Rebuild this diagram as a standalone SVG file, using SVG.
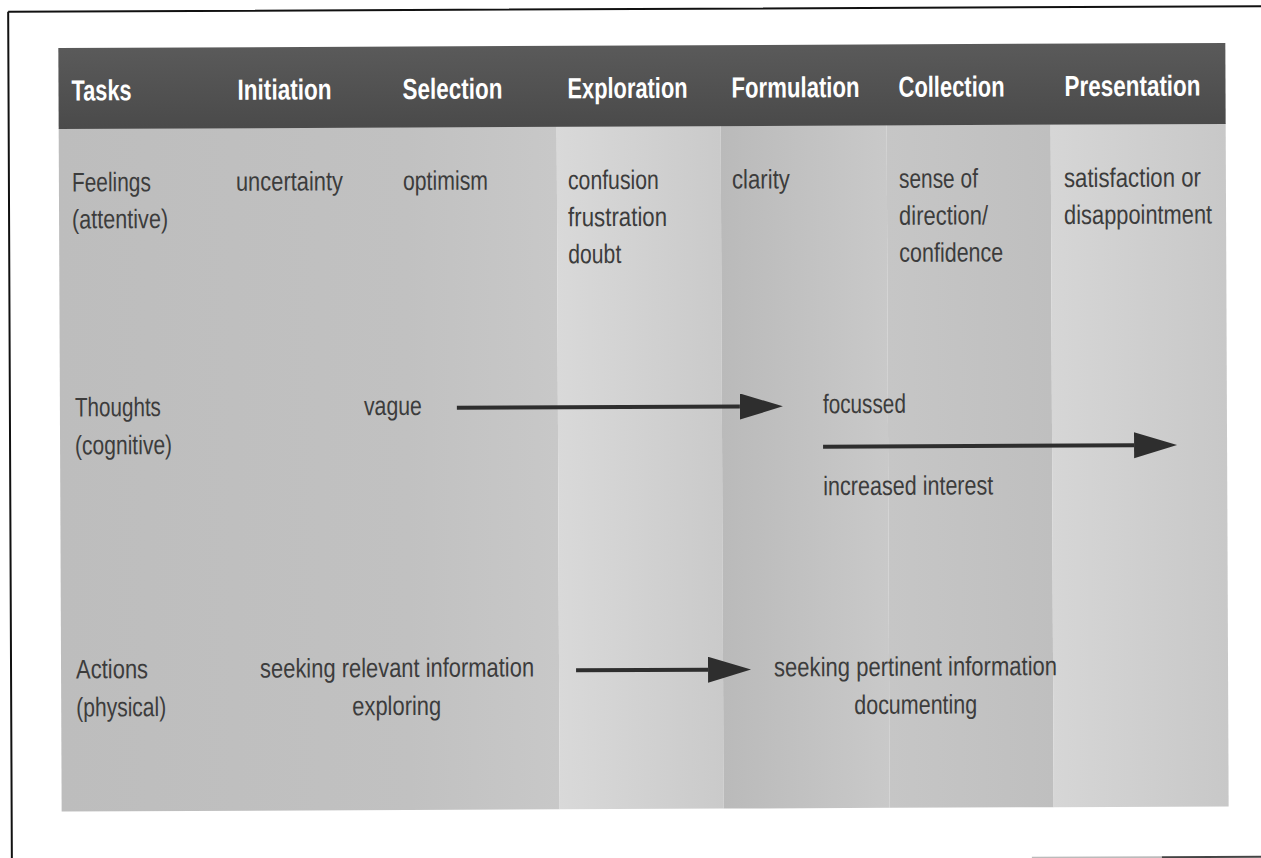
<svg xmlns="http://www.w3.org/2000/svg" width="1261" height="858" viewBox="0 0 1261 858">
  <style>
    .hd { font-family: "Liberation Sans Narrow", "Liberation Sans", Arial, sans-serif; font-weight: bold; font-size: 29px; fill: #ffffff; }
    .tx { font-family: "Liberation Sans Narrow", "Liberation Sans", Arial, sans-serif; font-size: 27px; fill: #3c3c3c; }
    .ar { stroke: #2e2e2e; stroke-width: 4; fill: none; }
    .frame { stroke: #111111; stroke-width: 2; fill: none; }
  </style>
  <defs>
    <marker id="head" markerUnits="userSpaceOnUse" markerWidth="46" markerHeight="28" refX="0" refY="13" orient="auto">
      <path d="M0,0 L43,13 L0,26 Z" fill="#2e2e2e"/>
    </marker>
    <linearGradient id="gLeft" x1="0" y1="0" x2="1" y2="0">
      <stop offset="0" stop-color="#bdbdbd"/>
      <stop offset="0.7" stop-color="#c1c1c1"/>
      <stop offset="1" stop-color="#c8c8c8"/>
    </linearGradient>
    <linearGradient id="gExp" x1="0" y1="0" x2="1" y2="0">
      <stop offset="0" stop-color="#d9d9d9"/>
      <stop offset="1" stop-color="#cacaca"/>
    </linearGradient>
    <linearGradient id="gFor" x1="0" y1="0" x2="1" y2="0">
      <stop offset="0" stop-color="#bababa"/>
      <stop offset="1" stop-color="#c9c9c9"/>
    </linearGradient>
    <linearGradient id="gCol" x1="0" y1="0" x2="1" y2="0">
      <stop offset="0" stop-color="#c6c6c6"/>
      <stop offset="1" stop-color="#bfbfbf"/>
    </linearGradient>
    <linearGradient id="gPre" x1="0" y1="0" x2="1" y2="0">
      <stop offset="0" stop-color="#d6d6d6"/>
      <stop offset="1" stop-color="#c8c8c8"/>
    </linearGradient>
    <linearGradient id="gHead" x1="0" y1="0" x2="0" y2="1">
      <stop offset="0" stop-color="#5a5a5a"/>
      <stop offset="1" stop-color="#4a4a4a"/>
    </linearGradient>
  </defs>

  <rect x="0" y="0" width="1261" height="858" fill="#ffffff"/>

  <g transform="rotate(-0.25 630 430)">
    <g id="frame">
      <path class="frame" d="M10,9 L1300,9 M10,9 L10,900"/>
      <path d="M1030,859.5 L1160,859.5" stroke="#bbbbbb" stroke-width="2"/>
      <path d="M1160,859.5 L1300,859.5" stroke="#444444" stroke-width="2"/>
    </g>

    <g id="table-body">
      <rect x="60" y="126" width="498" height="683" fill="url(#gLeft)"/>
      <rect x="558" y="126" width="164" height="683" fill="url(#gExp)"/>
      <rect x="722" y="126" width="166" height="683" fill="url(#gFor)"/>
      <rect x="888" y="126" width="164" height="683" fill="url(#gCol)"/>
      <rect x="1052" y="126" width="175" height="683" fill="url(#gPre)"/>
    </g>

    <g id="header">
      <rect x="60" y="45.5" width="1167" height="81" fill="url(#gHead)"/>
      <text class="hd" x="73" y="98" textLength="60" lengthAdjust="spacingAndGlyphs">Tasks</text>
      <text class="hd" x="239" y="98" textLength="94" lengthAdjust="spacingAndGlyphs">Initiation</text>
      <text class="hd" x="404" y="98" textLength="100" lengthAdjust="spacingAndGlyphs">Selection</text>
      <text class="hd" x="569" y="98" textLength="120" lengthAdjust="spacingAndGlyphs">Exploration</text>
      <text class="hd" x="733" y="98" textLength="128" lengthAdjust="spacingAndGlyphs">Formulation</text>
      <text class="hd" x="900" y="98" textLength="106" lengthAdjust="spacingAndGlyphs">Collection</text>
      <text class="hd" x="1066" y="98" textLength="136" lengthAdjust="spacingAndGlyphs">Presentation</text>
    </g>

    <g id="row-feelings">
      <text class="tx" x="73" y="189" textLength="79" lengthAdjust="spacingAndGlyphs">Feelings</text>
      <text class="tx" x="73" y="226" textLength="96" lengthAdjust="spacingAndGlyphs">(attentive)</text>
    </g>
    <g id="feel-initiation">
      <text class="tx" x="237" y="189" textLength="107" lengthAdjust="spacingAndGlyphs">uncertainty</text>
    </g>
    <g id="feel-selection">
      <text class="tx" x="404" y="189" textLength="85" lengthAdjust="spacingAndGlyphs">optimism</text>
    </g>
    <g id="feel-exploration">
      <text class="tx" x="569" y="189" textLength="91" lengthAdjust="spacingAndGlyphs">confusion</text>
      <text class="tx" x="569" y="226" textLength="99" lengthAdjust="spacingAndGlyphs">frustration</text>
      <text class="tx" x="569" y="263" textLength="53" lengthAdjust="spacingAndGlyphs">doubt</text>
    </g>
    <g id="feel-formulation">
      <text class="tx" x="733" y="189" textLength="58" lengthAdjust="spacingAndGlyphs">clarity</text>
    </g>
    <g id="feel-collection">
      <text class="tx" x="900" y="189" textLength="79" lengthAdjust="spacingAndGlyphs">sense of</text>
      <text class="tx" x="900" y="226" textLength="89" lengthAdjust="spacingAndGlyphs">direction/</text>
      <text class="tx" x="900" y="263" textLength="104" lengthAdjust="spacingAndGlyphs">confidence</text>
    </g>
    <g id="feel-presentation">
      <text class="tx" x="1065" y="189" textLength="137" lengthAdjust="spacingAndGlyphs">satisfaction or</text>
      <text class="tx" x="1065" y="226" textLength="148" lengthAdjust="spacingAndGlyphs">disappointment</text>
    </g>

    <g id="row-thoughts">
      <text class="tx" x="75" y="414" textLength="86" lengthAdjust="spacingAndGlyphs">Thoughts</text>
      <text class="tx" x="75" y="452" textLength="97" lengthAdjust="spacingAndGlyphs">(cognitive)</text>
    </g>
    <g id="thought-vague">
      <text class="tx" x="364" y="414" textLength="58" lengthAdjust="spacingAndGlyphs">vague</text>
    </g>
    <g id="thought-focussed">
      <text class="tx" x="823" y="414" textLength="83" lengthAdjust="spacingAndGlyphs">focussed</text>
      <text class="tx" x="823" y="496" textLength="170" lengthAdjust="spacingAndGlyphs">increased interest</text>
    </g>

    <g id="row-actions">
      <text class="tx" x="75" y="676" textLength="72" lengthAdjust="spacingAndGlyphs">Actions</text>
      <text class="tx" x="75" y="714" textLength="90" lengthAdjust="spacingAndGlyphs">(physical)</text>
    </g>
    <g id="action-relevant">
      <text class="tx" x="259" y="676" textLength="274" lengthAdjust="spacingAndGlyphs">seeking relevant information</text>
      <text class="tx" x="351" y="714" textLength="89" lengthAdjust="spacingAndGlyphs">exploring</text>
    </g>
    <g id="action-pertinent">
      <text class="tx" x="773" y="677" textLength="283" lengthAdjust="spacingAndGlyphs">seeking pertinent information</text>
      <text class="tx" x="853" y="715" textLength="123" lengthAdjust="spacingAndGlyphs">documenting</text>
    </g>

    <g id="connectors">
      <path class="ar" d="M457,407 L740,407" marker-end="url(#head)"/>
      <path class="ar" d="M823,447.5 L1134,447.5" marker-end="url(#head)"/>
      <path class="ar" d="M575,670 L707,670" marker-end="url(#head)"/>
    </g>
  </g>
</svg>
